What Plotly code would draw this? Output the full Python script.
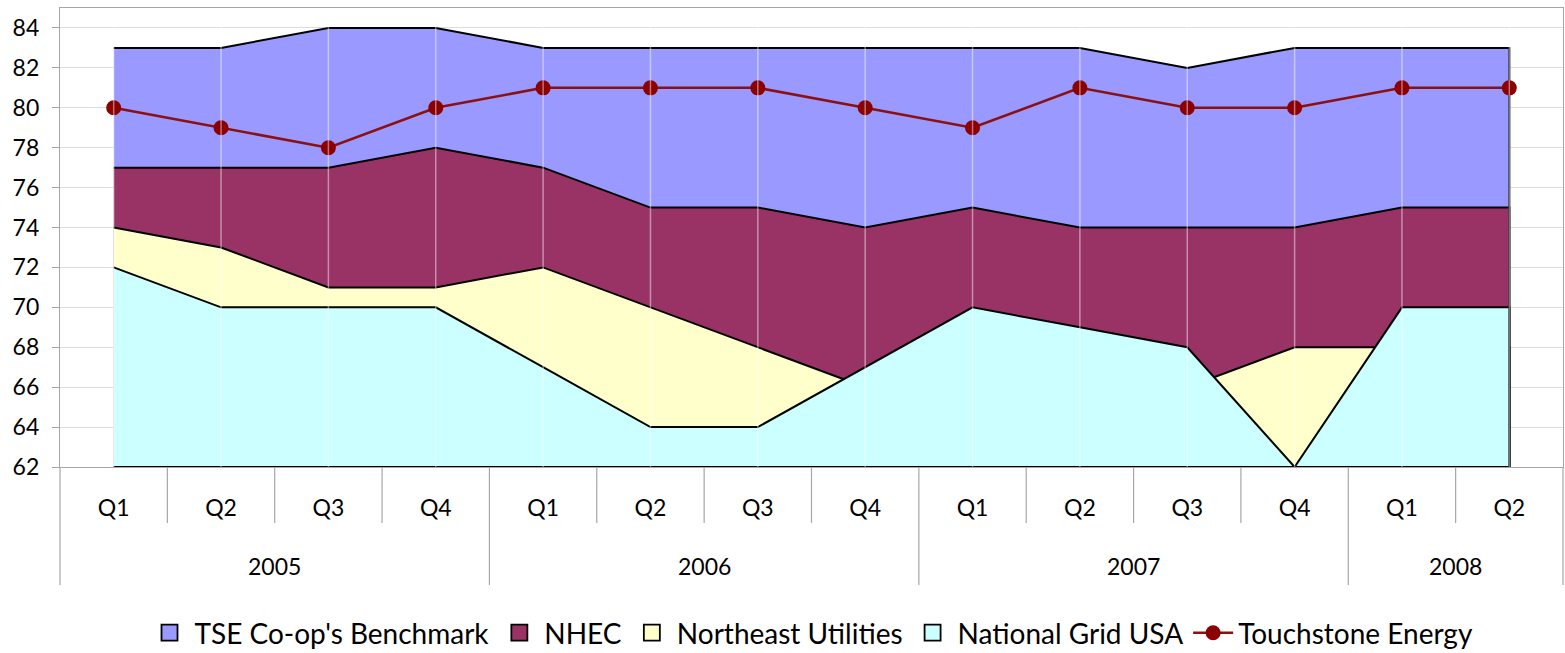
import plotly.graph_objects as go

# ---- data ----
years = ["2005", "2005", "2005", "2005", "2006", "2006", "2006", "2006",
         "2007", "2007", "2007", "2007", "2008", "2008"]
quarters = ["Q1", "Q2", "Q3", "Q4", "Q1", "Q2", "Q3", "Q4",
            "Q1", "Q2", "Q3", "Q4", "Q1", "Q2"]
tse_benchmark = [83, 83, 84, 84, 83, 83, 83, 83, 83, 83, 82, 83, 83, 83]
nhec = [77, 77, 77, 78, 77, 75, 75, 74, 75, 74, 74, 74, 75, 75]
northeast_utilities = [74, 73, 71, 71, 72, 70, 68, 66, 66, 66, 66, 68, 68, 68]
national_grid = [72, 70, 70, 70, 67, 64, 64, 67, 70, 69, 68, 62, 70, 70]
touchstone = [80, 79, 78, 80, 81, 81, 81, 80, 79, 81, 80, 80, 81, 81]

Y_MIN, Y_MAX = 62, 85
FONT = "Lato"

keys = [f"{y} {q}" for y, q in zip(years, quarters)]
n = len(keys)

fig = go.Figure()

areas = [
    ("TSE Co-op's Benchmark", tse_benchmark, "#9999FF"),
    ("NHEC", nhec, "#993366"),
    ("Northeast Utilities", northeast_utilities, "#FFFFCC"),
    ("National Grid USA", national_grid, "#CCFFFF"),
]
for name, vals, col in areas:
    fig.add_trace(go.Scatter(
        x=keys + keys[::-1],
        y=list(vals) + [Y_MIN] * n,
        mode="lines",
        fill="toself",
        fillcolor=col,
        line=dict(color="#000000", width=2),
        name=name,
        legendgroup=name,
        showlegend=False,
        hoverinfo="skip",
    ))

# legend entries (box swatches) for the areas
for name, vals, col in areas:
    fig.add_trace(go.Scatter(
        x=[None], y=[None], mode="markers",
        marker=dict(symbol="square", size=23, color=col,
                    line=dict(color="#000000", width=1.8)),
        name=name, legendgroup=name, showlegend=True,
    ))

fig.add_trace(go.Scatter(
    x=keys, y=touchstone, mode="lines+markers",
    line=dict(color="#8B1010", width=2.5),
    marker=dict(color="#8B0000", size=15),
    name="Touchstone Energy",
))

# plot-area geometry (px) used to convert to paper fractions
plot_h = 467 - 8
shapes = []
# faint vertical lines at category centres (drawn over the areas)
for i in range(n):
    shapes.append(dict(type="line", xref="x", yref="paper", x0=i, x1=i, y0=0, y1=1,
                       line=dict(color="rgba(255,255,255,0.45)", width=1.5), layer="above"))
# separators under the axis
for i in range(1, n):
    long_ = years[i] != years[i - 1]
    shapes.append(dict(type="line", xref="x", yref="paper", x0=i - 0.5, x1=i - 0.5,
                       y0=0, y1=-(118 if long_ else 56) / plot_h,
                       line=dict(color="#a6a6a6", width=1.2)))
for xe in (0, 1):
    shapes.append(dict(type="line", xref="paper", yref="paper", x0=xe, x1=xe,
                       y0=0, y1=-118 / plot_h, line=dict(color="#a6a6a6", width=1.2)))

annotations = []
uniq_years = []
for y in years:
    if y not in uniq_years:
        uniq_years.append(y)
for y in uniq_years:
    idx = [i for i, yy in enumerate(years) if yy == y]
    annotations.append(dict(xref="x", yref="paper", x=sum(idx) / len(idx),
                            y=-99 / plot_h, text=y, showarrow=False,
                            yanchor="middle",
                            font=dict(family=FONT, size=23, color="#000000")))

fig.update_layout(
    width=1565, height=653,
    margin=dict(l=60, r=2, t=8, b=186, autoexpand=False),
    paper_bgcolor="#ffffff", plot_bgcolor="#ffffff",
    font=dict(family=FONT, size=23, color="#000000"),
    showlegend=True,
    legend=dict(orientation="h", x=0.5, xanchor="center",
                y=-166 / plot_h, yanchor="middle",
                font=dict(family=FONT, size=28, color="#000000"),
                itemwidth=40, bgcolor="rgba(0,0,0,0)", tracegroupgap=0),
    shapes=shapes,
    annotations=annotations,
    xaxis=dict(type="category", categoryorder="array", categoryarray=keys,
               range=[-0.5, n - 0.5], tickvals=keys, ticktext=quarters,
               showgrid=False, ticks="", showline=True, linecolor="#a6a6a6",
               linewidth=1.2, mirror=True, ticklabelstandoff=20,
               tickfont=dict(family=FONT, size=23)),
    yaxis=dict(range=[Y_MIN, Y_MAX], tick0=Y_MIN, dtick=2, showgrid=True,
               gridcolor="#dcdcdc", gridwidth=1, ticks="outside", ticklen=7,
               tickcolor="#a6a6a6", showline=True, linecolor="#a6a6a6",
               linewidth=1.2, mirror=True, zeroline=False, ticklabelstandoff=8,
               tickfont=dict(family=FONT, size=23)),
)

fig.write_html(
    "out.html",
    config={"displayModeBar": False},
    post_script="document.body.style.margin='0px';"
                "document.documentElement.style.overflow='hidden';",
)
